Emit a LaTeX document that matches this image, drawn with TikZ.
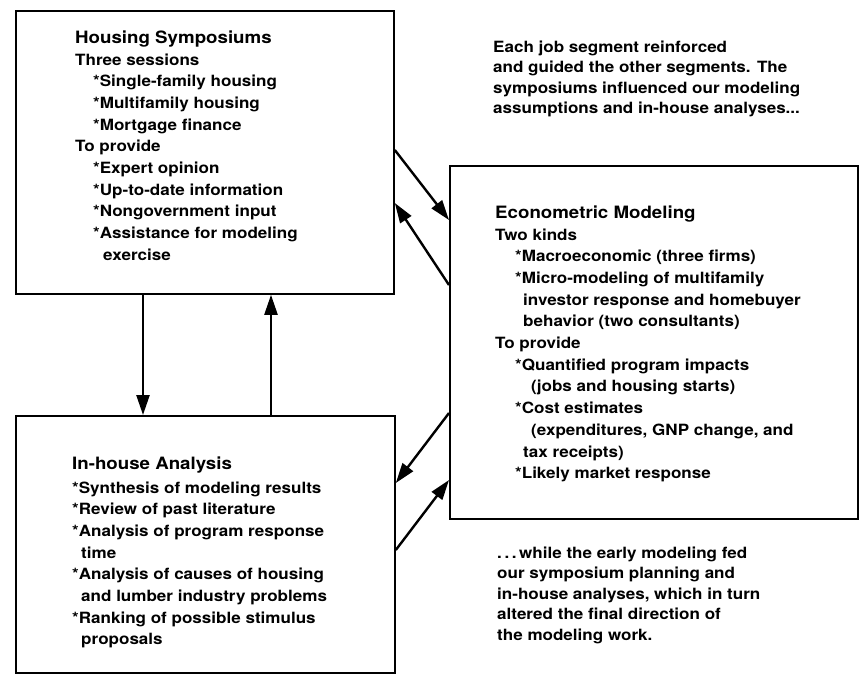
\documentclass[tikz,border=0pt]{standalone}
\usepackage{fontspec}
\setmainfont{TeX Gyre Heros}[FakeStretch=1.1]
\usetikzlibrary{arrows.meta}
\tikzset{
  box/.style={draw, line width=1.8pt, rectangle, anchor=north west, inner sep=0pt},
  arr/.style={line width=2.4pt, -{Triangle[length=20pt,width=13pt]}},
  ttl/.style={anchor=base west, inner sep=0pt, font=\fontsize{17}{22}\selectfont\bfseries},
  txt/.style={anchor=base west, inner sep=0pt, font=\fontsize{15.5}{21.7}\selectfont\bfseries},
  note/.style={anchor=base west, inner sep=0pt, font=\fontsize{15.5}{20.6}\selectfont\bfseries}
}
\newcommand{\ind}[1]{\hspace*{#1pt}}
\begin{document}
\begin{tikzpicture}[x=1pt, y=-1pt]
\useasboundingbox (0,0) rectangle (860,680);
% boxes
\node[box, minimum width=378pt, minimum height=283pt] (b1) at (15,10) {};
\node[box, minimum width=379pt, minimum height=257pt] (b2) at (15,415) {};
\node[box, minimum width=408pt, minimum height=353pt] (b3) at (449,165) {};
% box 1 text
\node[ttl] (t1) at (75,43) {Housing Symposiums};
\node[txt] (x1) at (75,65) {\begin{tabular}[t]{@{}l@{}}
Three sessions\\
\ind{18}{*}Single-family housing\\
\ind{18}{*}Multifamily housing\\
\ind{18}{*}Mortgage finance\\
To provide\\
\ind{18}{*}Expert opinion\\
\ind{18}{*}Up-to-date information\\
\ind{18}{*}Nongovernment input\\
\ind{18}{*}Assistance for modeling\\
\ind{28}exercise
\end{tabular}};
% box 2 text
\node[ttl] (t2) at (72,469) {In-house Analysis};
\node[txt] (x2) at (72,493) {\begin{tabular}[t]{@{}l@{}}
{*}Synthesis of modeling results\\
{*}Review of past literature\\
{*}Analysis of program response\\
\ind{9}time\\
{*}Analysis of causes of housing\\
\ind{9}and lumber industry problems\\
{*}Ranking of possible stimulus\\
\ind{9}proposals
\end{tabular}};
% box 3 text
\node[ttl] (t3) at (495,218) {Econometric Modeling};
\node[txt] (x3) at (495,240) {\begin{tabular}[t]{@{}l@{}}
Two kinds\\
\ind{20}{*}Macroeconomic (three firms)\\
\ind{20}{*}Micro-modeling of multifamily\\
\ind{28}investor response and homebuyer\\
\ind{28}behavior (two consultants)\\
To provide\\
\ind{20}{*}Quantified program impacts\\
\ind{36}(jobs and housing starts)\\
\ind{20}{*}Cost estimates\\
\ind{36}(expenditures, GNP change, and\\
\ind{28}tax receipts)\\
\ind{20}{*}Likely market response
\end{tabular}};
% notes
\node[note] (n1) at (493,52) {\begin{tabular}[t]{@{}l@{}}
Each job segment reinforced\\
and guided the other segments. The\\
symposiums influenced our modeling\\
assumptions and in-house analyses...
\end{tabular}};
\node[note] (n2) at (497,558) {\begin{tabular}[t]{@{}l@{}}
.\,.\,.\,while the early modeling fed\\
our symposium planning and\\
in-house analyses, which in turn\\
altered the final direction of\\
the modeling work.
\end{tabular}};
% connectors
\draw[arr] ([xshift=128pt]b1.south west) -- ([xshift=128pt]b2.north west);
\draw[arr] ([xshift=256pt]b2.north west) -- ([xshift=256pt]b1.south west);
\draw[arr] ([yshift=-140pt]b1.north east) -- ([yshift=-55pt]b3.north west);
\draw[arr] ([yshift=-120pt]b3.north west) -- ([yshift=-193pt]b1.north east);
\draw[arr] ([yshift=-248pt]b3.north west) -- ([yshift=-68pt]b2.north east);
\draw[arr] ([yshift=-135pt]b2.north east) -- ([yshift=-315pt]b3.north west);
\end{tikzpicture}
\end{document}
